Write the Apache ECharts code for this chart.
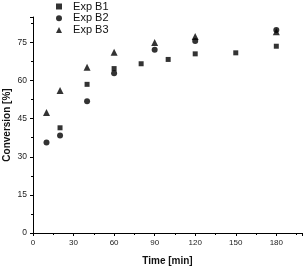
<!DOCTYPE html>
<html><head><meta charset="utf-8">
<script src="https://cdn.jsdelivr.net/npm/echarts@6/dist/echarts.min.js"></script>
<style>html,body{margin:0;padding:0;background:#fff}#c{width:305px;height:268px}</style>
</head><body><div id="c"></div>
<script>
const seriesNames = ["Exp B1", "Exp B2", "Exp B3"];
const b1Time = [20, 40, 60, 80, 100, 120, 150, 180];
const b1Conv = [41.4, 58.5, 64.7, 66.6, 68.3, 70.5, 70.9, 73.5];
const b2Time = [10, 20, 40, 60, 90, 120, 180];
const b2Conv = [35.6, 38.4, 51.8, 62.9, 72.1, 75.6, 79.9];
const b3Time = [10, 20, 40, 60, 90, 120, 180];
const b3Conv = [47.4, 56.1, 65.2, 71.1, 75.0, 77.3, 79.2];
const symbols = ["rect", "circle", "triangle"];

const pairs = (xs, ys) => xs.map((x, i) => [x, ys[i]]);
const data = [pairs(b1Time, b1Conv), pairs(b2Time, b2Conv), pairs(b3Time, b3Conv)];
const font = "Liberation Sans, Arial, sans-serif";

const chart = echarts.init(document.getElementById('c'));
chart.setOption({
  animation: false,
  textStyle: { fontFamily: font },
  legend: {
    orient: 'vertical', left: 51, top: -4, itemGap: 0.8, itemWidth: 6, itemHeight: 6,
    formatter: '  {name}',
    textStyle: { fontSize: 11, color: '#111', fontFamily: font },
    data: seriesNames.map((n, i) => ({ name: n, icon: symbols[i] }))
  },
  grid: { left: 33, right: 3, top: 17, bottom: 35, containLabel: false, outerBoundsMode: 'none' },
  xAxis: {
    type: 'value', min: 0, max: 199, interval: 30,
    name: 'Time [min]', nameLocation: 'middle', nameGap: 23, nameMoveOverlap: false,
    nameTextStyle: { fontWeight: 'bold', fontSize: 10, color: '#111' },
    axisLine: { lineStyle: { color: '#000', width: 1 } },
    axisTick: { inside: false, length: 3, lineStyle: { color: '#000' } },
    minorTick: { show: true, splitNumber: 2, length: 2, lineStyle: { color: '#000' } },
    axisLabel: { fontSize: 8, color: '#222', margin: 6, showMaxLabel: false },
    splitLine: { show: false }
  },
  yAxis: {
    type: 'value', min: 0, max: 85, interval: 15,
    name: 'Conversion [%]', nameLocation: 'middle', nameGap: 21, nameRotate: 90, nameMoveOverlap: false,
    nameTextStyle: { fontWeight: 'bold', fontSize: 10, color: '#111' },
    axisLine: { show: true, lineStyle: { color: '#000', width: 1 } },
    axisTick: { show: true, inside: false, length: 3, lineStyle: { color: '#000' } },
    minorTick: { show: true, splitNumber: 2, length: 2, lineStyle: { color: '#000' } },
    axisLabel: { fontSize: 8.5, color: '#222', margin: 6, showMaxLabel: false },
    splitLine: { show: false }
  },
  series: seriesNames.map((n, i) => ({
    name: n, type: 'scatter', symbol: symbols[i], symbolSize: [5, 6, 7][i],
    itemStyle: { color: '#000' }, data: data[i]
  }))
});
</script></body></html>
